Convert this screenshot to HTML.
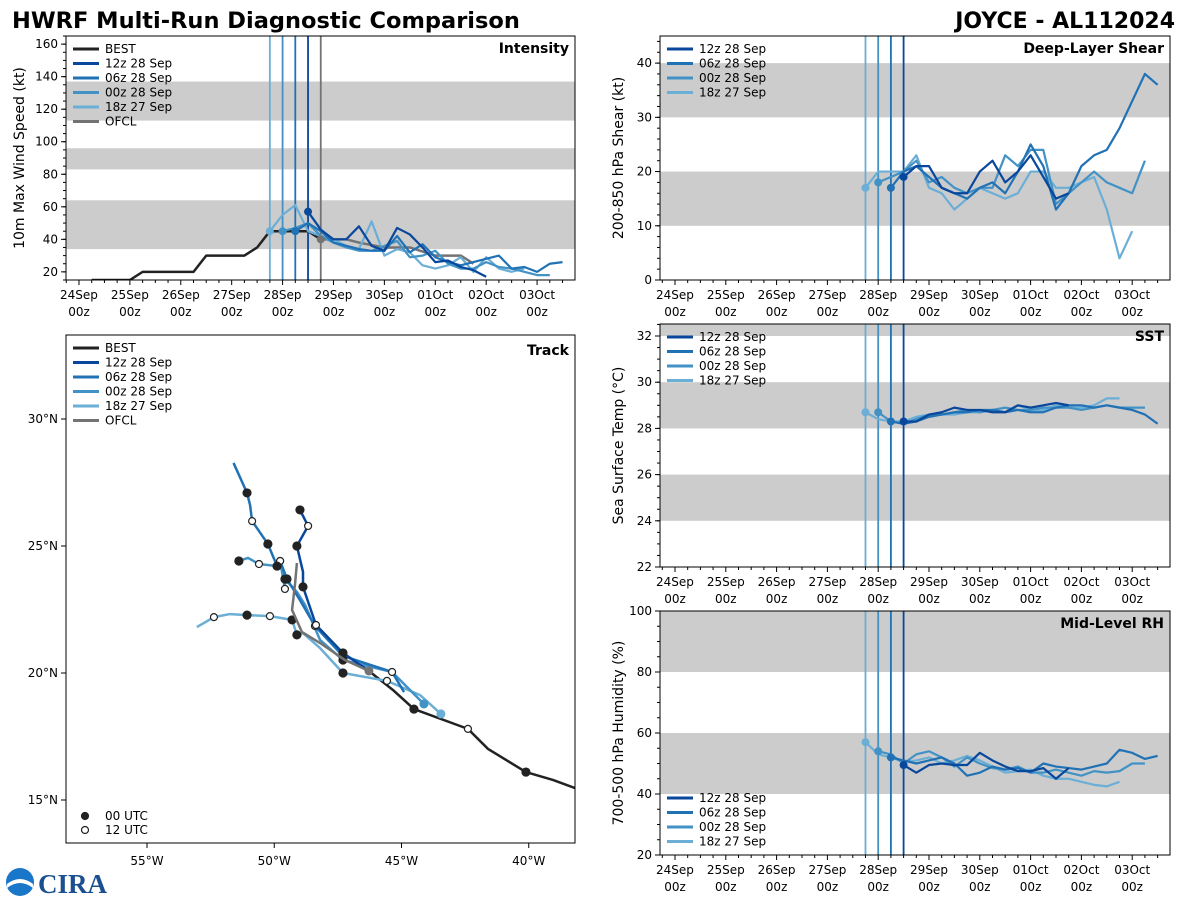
<!DOCTYPE html>
<html><head><meta charset="utf-8">
<style>
html,body{margin:0;padding:0;background:#fff;}
svg{display:block;font-family:"DejaVu Sans","Liberation Sans",sans-serif;}
</style></head>
<body>
<svg id="chart" width="1200" height="900" viewBox="0 0 1200 900" xmlns="http://www.w3.org/2000/svg">
<text x="12" y="28" font-size="22.5" font-weight="bold" fill="#000">HWRF Multi-Run Diagnostic Comparison</text>
<text x="1175" y="28" font-size="22" font-weight="bold" fill="#000" text-anchor="end">JOYCE - AL112024</text>
<g>
<circle cx="20" cy="882" r="14" fill="#1a76c9"/>
<path d="M7 884 Q20 874 33 884 L33 888 Q20 878 7 888Z" fill="#fff"/>
<text x="38" y="893" font-size="27" font-weight="bold" fill="#1b4f8f" font-family="Liberation Serif,serif">CIRA</text>
</g>
</svg>
<script>
const NS='http://www.w3.org/2000/svg';
const svg=document.getElementById('chart');
function mk(tag,attrs,parent){const e=document.createElementNS(NS,tag);for(const k in attrs)e.setAttribute(k,attrs[k]);(parent||svg).appendChild(e);return e;}

const COLORS={best:'#222222',r12:'#08479b',r06:'#2171b5',r00:'#4292c6',r18:'#6baed6',ofcl:'#737373'};
const dayLabels=['24Sep','25Sep','26Sep','27Sep','28Sep','29Sep','30Sep','01Oct','02Oct','03Oct'];
const runStarts=[4.5,4.25,4.0,3.75];
const runNames=['12z 28 Sep','06z 28 Sep','00z 28 Sep','18z 27 Sep'];
const runKeys=['r12','r06','r00','r18'];

const bestT=[0.25,1.0,1.25,2.25,2.5,3.25,3.5,3.75,4.0,4.25,4.5,4.75];
const bestV=[15,15,20,20,30,30,35,45,45,45,45,40];
const ofclT=[4.75,5.0,5.25,5.5,6.0,6.5,7.0,7.5,7.75];
const ofclV=[40,40,40,38,35,35,30,30,25];
const int12=[57,46,40,40,48,36,33,47,43,35,26,27,23,21,17];
const int06=[45,50,45,38,36,34,33,33,42,32,37,29,26,24,26,28,30,22,23,20,25,26];
const int00=[45,47,50,42,38,35,33,33,36,39,29,30,33,25,22,22,26,23,22,20,18,18];
const int18=[45,55,61,45,42,40,36,34,51,30,34,32,24,22,24,29,20,29,22,20,22];
const shr12=[19,21,21,17,16,16,20,22,18,20,23,19,15,16];
const shr06=[17,20,21,19,17,16,15,17,18,16,20,25,21,13,16,21,23,24,28,33,38,36];
const shr00=[18,19,20,22,18,19,17,16,17,17,23,21,24,24,14,16,18,20,18,17,16,22];
const shr18=[17,20,20,20,23,17,16,13,15,17,16,15,16,20,20,17,17,18,19,13,4,9];
const sst12=[28.3,28.3,28.6,28.7,28.9,28.8,28.8,28.7,28.7,29.0,28.9,29.0,29.1,29.0];
const sst06=[28.3,28.2,28.3,28.5,28.6,28.7,28.7,28.8,28.8,28.7,28.8,28.7,28.7,28.9,29.0,29.0,28.9,29.0,28.9,28.8,28.6,28.2];
const sst00=[28.7,28.3,28.2,28.4,28.6,28.6,28.7,28.8,28.7,28.8,28.9,28.8,28.8,28.9,28.9,28.9,28.8,28.9,29.0,28.9,28.9,28.9];
const sst18=[28.7,28.4,28.3,28.3,28.5,28.6,28.6,28.6,28.7,28.7,28.8,28.7,29.0,28.8,28.8,29.0,28.9,28.9,29.0,29.3,29.3];
const rh12=[49.5,47,49.5,50,49.5,49.5,53.5,51,49,47.5,47.5,48.5,45,48.5];
const rh06=[52,51,50,51,52,50,46,47,49,48,48.5,47,50,49,48.5,48,49,50,54.5,53.5,51.5,52.5];
const rh00=[54,53,50,53,54,52,49,52,50,48.5,48,49,47,47,48,47,46,47.5,47,47.5,50,50];
const rh18=[57,53,52,50.5,51,52,50,51,52.5,51,49,47,47.5,48,46,45,45,44,43,42.5,44];

function timePanel(cfg){
  const g=mk('g',{});
  
  
  const {x0,x1,y0,y1,tmin,tmax,vmin,vmax}=cfg;
  const X=t=>x0+(t-tmin)/(tmax-tmin)*(x1-x0);
  const Y=v=>y1-(v-vmin)/(vmax-vmin)*(y1-y0);
  mk('clipPath',{id:'cp-'+cfg.name},g).appendChild(mk('rect',{x:x0,y:y0,width:x1-x0,height:y1-y0},g));
  const clip=mk('g',{'clip-path':'url(#cp-'+cfg.name+')'},g);
  cfg.bands.forEach(b=>{const r=mk('rect',{x:x0,y:Y(Math.min(b[1],vmax)),width:x1-x0,height:Y(b[0])-Y(Math.min(b[1],vmax)),fill:'#cccccc'},clip);
    });
  const vlines=[[3.75,'r18'],[4.0,'r00'],[4.25,'r06'],[4.5,'r12']];
  if(cfg.ofclLine) vlines.push([4.75,'ofcl']);
  vlines.forEach(v=>{const l=mk('line',{x1:X(v[0]),x2:X(v[0]),y1:y0,y2:y1,stroke:COLORS[v[1]],'stroke-width':1.8},clip);
    });
  function series(ts,vs,color,w,name){
    const p=mk('polyline',{points:ts.map((t,i)=>X(t)+','+Y(vs[i])).join(' '),fill:'none',stroke:color,'stroke-width':w,'stroke-linejoin':'round'},clip);
    
  }
  if(cfg.best){series(bestT,bestV,COLORS.best,2.5,'best-line');series(ofclT,ofclV,COLORS.ofcl,2.5,'ofcl-line');}
  const order=[3,2,1,0];
  order.forEach(i=>{const vs=cfg.runs[i];const ts=vs.map((_,j)=>runStarts[i]+j*0.25);series(ts,vs,COLORS[runKeys[i]],2.2,'series-'+runKeys[i]);});
  order.forEach(i=>{const c=mk('circle',{cx:X(runStarts[i]),cy:Y(cfg.runs[i][0]),r:4,fill:COLORS[runKeys[i]]},clip);});
  if(cfg.best){const c=mk('circle',{cx:X(ofclT[0]),cy:Y(ofclV[0]),r:4,fill:COLORS.ofcl},clip);}
  mk('rect',{x:x0,y:y0,width:x1-x0,height:y1-y0,fill:'none',stroke:'#000','stroke-width':1},g);
  for(let t=Math.ceil(tmin*4)/4;t<=tmax;t+=0.25){
    const maj=Math.abs(t-Math.round(t))<1e-6;
    mk('line',{x1:X(t),x2:X(t),y1:y1,y2:y1+(maj?5:3),stroke:'#000','stroke-width':1},g);
    if(maj&&dayLabels[Math.round(t)]){
      const a=mk('text',{x:X(t),y:y1+19,'font-size':12,'text-anchor':'middle'},g);a.textContent=dayLabels[Math.round(t)];
      
      const b=mk('text',{x:X(t),y:y1+36,'font-size':12,'text-anchor':'middle'},g);b.textContent='00z';
      
    }
  }
  cfg.yticks.forEach(v=>{mk('line',{x1:x0-5,x2:x0,y1:Y(v),y2:Y(v),stroke:'#000'},g);
    const t=mk('text',{x:x0-8,y:Y(v)+4,'font-size':12,'text-anchor':'end'},g);t.textContent=v;
    });
  for(let v=cfg.yminorStart;v<=vmax;v+=cfg.yminor){mk('line',{x1:x0-3,x2:x0,y1:Y(v),y2:Y(v),stroke:'#000'},g);}
  const yt=mk('text',{x:cfg.ylabX,y:(y0+y1)/2,'font-size':14,'text-anchor':'middle',transform:'rotate(-90 '+cfg.ylabX+' '+(y0+y1)/2+')'},g);
  yt.textContent=cfg.ylabel;
  const tt=mk('text',{x:x1-6,y:y0+17,'font-size':14,'font-weight':'bold','text-anchor':'end'},g);
  tt.textContent=cfg.title;
  legend(g,x0,cfg.legendY,cfg.best);
}
function legend(g,x0,ly,withBest){
  let items=[];
  if(withBest)items.push(['BEST',COLORS.best]);
  for(let i=0;i<4;i++)items.push([runNames[i],COLORS[runKeys[i]]]);
  if(withBest)items.push(['OFCL',COLORS.ofcl]);
  items.forEach((it,i)=>{const y=ly+i*14.5;
    const l=mk('line',{x1:x0+7,x2:x0+33,y1:y,y2:y,stroke:it[1],'stroke-width':3},g);
    
    const t=mk('text',{x:x0+39,y:y+4,'font-size':12},g);t.textContent=it[0];
    });
}

timePanel({name:'intensity-panel',x0:66,x1:575,y0:36,y1:280,tmin:-0.255,tmax:9.745,vmin:15,vmax:165,
  bands:[[34,64],[83,96],[113,137]],yticks:[20,40,60,80,100,120,140,160],yminor:5,yminorStart:15,
  ylabel:'10m Max Wind Speed (kt)',ylabX:24,title:'Intensity',runs:[int12,int06,int00,int18],best:true,ofclLine:true,legendY:49});
timePanel({name:'shear-panel',x0:660,x1:1170,y0:36,y1:280,tmin:-0.295,tmax:9.744,vmin:0,vmax:45,
  bands:[[10,20],[30,40]],yticks:[0,10,20,30,40],yminor:2,yminorStart:0,
  ylabel:'200-850 hPa Shear (kt)',ylabX:623,title:'Deep-Layer Shear',runs:[shr12,shr06,shr00,shr18],best:false,legendY:49});
timePanel({name:'sst-panel',x0:660,x1:1170,y0:324,y1:567,tmin:-0.295,tmax:9.744,vmin:22,vmax:32.52,
  bands:[[24,26],[28,30],[32,33]],yticks:[22,24,26,28,30,32],yminor:0.5,yminorStart:22,
  ylabel:'Sea Surface Temp (°C)',ylabX:623,title:'SST',runs:[sst12,sst06,sst00,sst18],best:false,legendY:337});
timePanel({name:'rh-panel',x0:660,x1:1170,y0:611,y1:855,tmin:-0.295,tmax:9.744,vmin:20,vmax:100,
  bands:[[40,60],[80,100]],yticks:[20,40,60,80,100],yminor:5,yminorStart:20,
  ylabel:'700-500 hPa Humidity (%)',ylabX:623,title:'Mid-Level RH',runs:[rh12,rh06,rh00,rh18],best:false,legendY:798});

const bestLon=[-38.18,-39.05,-40.11,-41.60,-42.39,-44.51,-45.3,-46.28];
const bestLat=[15.47,15.79,16.10,17.01,17.80,18.58,19.3,20.08];
const bestMk=['','','f','','o','f','',''];
const t12Lon=[-46.28,-47.30,-48.36,-48.87,-48.87,-49.11,-48.67,-48.99];
const t12Lat=[20.08,20.79,21.89,23.39,23.98,25.0,25.79,26.42];
const t12Mk=['','f','o','f','','f','o','f'];
const t06Lon=[-44.90,-45.37,-47.30,-48.40,-48.99,-49.50,-49.77,-49.89,-50.25,-50.87,-50.95,-51.07,-51.6];
const t06Lat=[19.25,20.04,20.67,21.85,22.87,23.70,24.41,24.21,25.08,25.98,26.61,27.09,28.27];
const t06Mk=['','o','f','o','','f','o','f','f','o','','f',''];
const t00Lon=[-44.12,-45.37,-47.30,-48.20,-48.79,-49.11,-49.58,-49.58,-49.77,-49.89,-50.60,-51.03,-51.39];
const t00Lat=[18.78,20.04,20.51,21.30,22.68,23.19,23.70,23.31,24.41,24.21,24.29,24.53,24.41];
const t00Mk=['','','f','','','','f','o','o','','o','','f'];
const t18Lon=[-43.45,-44.27,-45.57,-47.30,-48.20,-48.87,-49.11,-49.30,-50.17,-51.07,-51.74,-52.37,-53.04];
const t18Lat=[18.39,19.13,19.69,20.0,20.98,21.57,21.50,22.09,22.24,22.28,22.32,22.20,21.81];
const t18Mk=['','','o','f','','','f','f','o','f','','o',''];
const ofLon=[-46.28,-47.22,-48.20,-48.91,-49.30,-49.18,-49.11];
const ofLat=[20.08,20.51,21.18,21.61,22.48,23.54,24.33];
const lonTicks=[-55,-50,-45,-40];
const latTicks=[15,20,25,30];
(function(){
  const g=mk('g',{});
  
  const x0=66,x1=575,y0=335,y1=843;
  const LX=lon=>147+(lon+55)*25.45;
  const LY=lat=>673-(lat-20)*25.4;
  mk('clipPath',{id:'cp-track'},g).appendChild(mk('rect',{x:x0,y:y0,width:x1-x0,height:y1-y0},g));
  const clip=mk('g',{'clip-path':'url(#cp-track)'},g);
  function track(lons,lats,marks,color,name){
    const p=mk('polyline',{points:lons.map((l,i)=>LX(l)+','+LY(lats[i])).join(' '),fill:'none',stroke:color,'stroke-width':2.5,'stroke-linejoin':'round'},clip);
    
    marks.forEach((m,i)=>{if(!m)return;
      const c=mk('circle',{cx:LX(lons[i]),cy:LY(lats[i]),r:m==='f'?4:3.5,fill:m==='f'?'#222':'#fff',stroke:'#222','stroke-width':1.2},clip);
      });
  }
  track(bestLon,bestLat,bestMk,COLORS.best,'best-track');
  track(t18Lon,t18Lat,t18Mk,COLORS.r18,'track-18z27');
  track(t00Lon,t00Lat,t00Mk,COLORS.r00,'track-00z28');
  track(t06Lon,t06Lat,t06Mk,COLORS.r06,'track-06z28');
  track(t12Lon,t12Lat,t12Mk,COLORS.r12,'track-12z28');
  track(ofLon,ofLat,[],COLORS.ofcl,'ofcl-track');
  [[t18Lon,t18Lat,'r18'],[t00Lon,t00Lat,'r00']].forEach(a=>{const c=mk('circle',{cx:LX(a[0][0]),cy:LY(a[1][0]),r:4.5,fill:COLORS[a[2]]},clip);});
  const oc=mk('circle',{cx:LX(ofLon[0]),cy:LY(ofLat[0]),r:4.5,fill:COLORS.ofcl},clip);
  mk('rect',{x:x0,y:y0,width:x1-x0,height:y1-y0,fill:'none',stroke:'#000'},g);
  lonTicks.forEach(l=>{mk('line',{x1:LX(l),x2:LX(l),y1:y1,y2:y1+5,stroke:'#000'},g);
    const t=mk('text',{x:LX(l),y:y1+22,'font-size':12,'text-anchor':'middle'},g);t.textContent=Math.abs(l)+'°W';
    });
  latTicks.forEach(l=>{mk('line',{x1:x0-5,x2:x0,y1:LY(l),y2:LY(l),stroke:'#000'},g);
    const t=mk('text',{x:x0-8,y:LY(l)+4,'font-size':12,'text-anchor':'end'},g);t.textContent=l+'°N';
    });
  const tt=mk('text',{x:x1-6,y:y0+20,'font-size':14,'font-weight':'bold','text-anchor':'end'},g);
  tt.textContent='Track';
  legend(g,x0,348,true);
  [['f','00 UTC',816],['o','12 UTC',830]].forEach(m=>{
    const c=mk('circle',{cx:85,cy:m[2],r:3.5,fill:m[0]==='f'?'#222':'#fff',stroke:'#222','stroke-width':1.2},g);
    
    const t=mk('text',{x:105,y:m[2]+4,'font-size':12},g);t.textContent=m[1];
    });
})();
</script>
</body></html>
